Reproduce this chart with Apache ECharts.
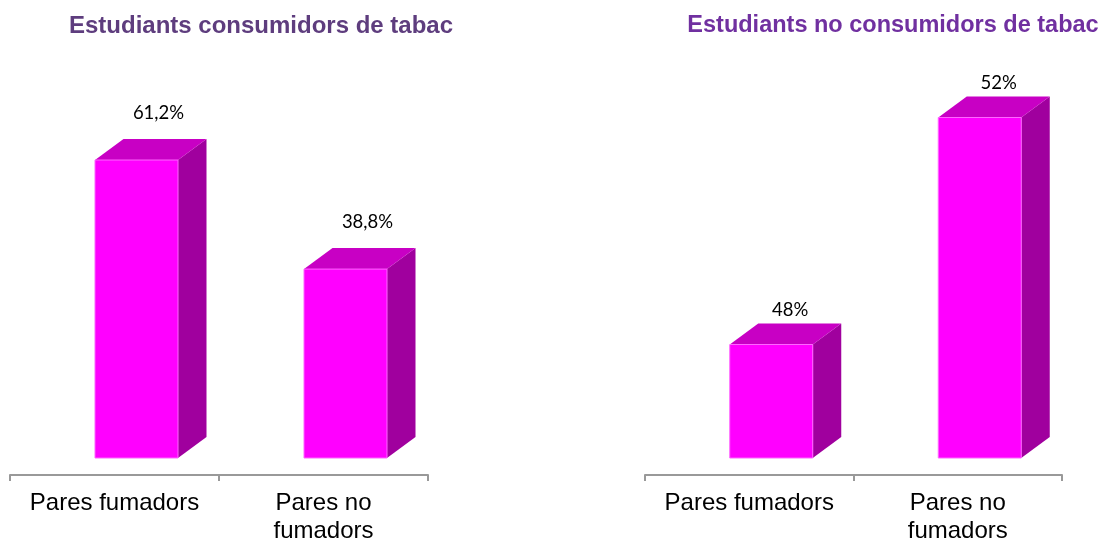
<!DOCTYPE html>
<html>
<head>
<meta charset="utf-8">
<script src="https://cdn.jsdelivr.net/npm/echarts@6/dist/echarts.min.js"></script>
<style>html,body{margin:0;padding:0;background:#fff}#c{width:1102px;height:540px}</style>
</head>
<body>
<div id="c"></div>
<script>
const categories = ['Pares fumadors', 'Pares no\nfumadors'];
const consumidors = [61.2, 38.8];
const noConsumidors = [48, 52];
const labelsConsumidors = ['61,2%', '38,8%'];
const labelsNoConsumidors = ['48%', '52%'];
const titles = ['Estudiants consumidors de tabac', 'Estudiants no consumidors de tabac'];

const W = 83, OFF = -19.5, DX = 28.5, DY = 21, LIFT = 17;

function makeRender(yMin, labels, labelGap, labelShift) {
  return function (params, api) {
    const ci = api.value(0), v = api.value(1);
    const b = api.coord([ci, yMin]);
    const t = api.coord([ci, v]);
    const x0 = t[0] + OFF, x1 = x0 + W;
    const yb = b[1] - LIFT, yt = t[1] - LIFT;
    return {
      type: 'group',
      children: [
        { type: 'polygon', shape: { points: [[x1, yt], [x1 + DX, yt - DY], [x1 + DX, yb - DY], [x1, yb]] },
          style: { fill: '#a0009e' } },
        { type: 'polygon', shape: { points: [[x0, yt], [x0 + DX, yt - DY], [x1 + DX, yt - DY], [x1, yt]] },
          style: { fill: '#c800c4' } },
        { type: 'rect', shape: { x: x0, y: yt, width: W, height: yb - yt },
          style: { fill: '#ff00ff', stroke: '#ff66ff', lineWidth: 1 } },
        { type: 'text', x: x0 + W / 2 + labelShift, y: yt - DY - labelGap,
          style: { text: labels[params.dataIndex], fill: '#000', font: '18.5px Lato, "Open Sans", sans-serif',
                   align: 'center', verticalAlign: 'middle' } }
      ]
    };
  };
}

const axisCommon = {
  type: 'category',
  data: categories,
  boundaryGap: true,
  axisLine: { lineStyle: { color: '#999999', width: 2 } },
  axisTick: { show: true, length: 6, lineStyle: { color: '#999999', width: 2 } },
  axisLabel: { color: '#000', fontSize: 24, lineHeight: 28, fontFamily: '"Liberation Sans", Arial, sans-serif', margin: 14, interval: 0 },
  splitLine: { show: false }
};

const option = {
  animation: false,
  title: [
    { text: titles[0], left: 256, top: 9, textAlign: 'center',
      textStyle: { color: '#5e3d7e', fontSize: 24, fontWeight: 'bold', fontFamily: '"Liberation Sans", Arial, sans-serif' } },
    { text: titles[1], left: 888, top: 9, textAlign: 'center',
      textStyle: { color: '#7030a0', fontSize: 23.5, fontWeight: 'bold', fontFamily: '"Liberation Sans", Arial, sans-serif' } }
  ],
  grid: [
    { left: 10, right: 674, top: 475 - 80 * 4.869, bottom: 65, outerBoundsMode: 'none', containLabel: false },
    { left: 645, right: 40, top: 475 - 7 * 56.75, bottom: 65, outerBoundsMode: 'none', containLabel: false }
  ],
  xAxis: [
    Object.assign({ gridIndex: 0 }, axisCommon),
    Object.assign({ gridIndex: 1 }, axisCommon)
  ],
  yAxis: [
    { gridIndex: 0, type: 'value', min: 0, max: 80, show: false },
    { gridIndex: 1, type: 'value', min: 46, max: 53, show: false }
  ],
  series: [
    { type: 'custom', xAxisIndex: 0, yAxisIndex: 0, clip: false,
      renderItem: makeRender(0, labelsConsumidors, 26, 22),
      data: consumidors.map((v, i) => [i, v]) },
    { type: 'custom', xAxisIndex: 1, yAxisIndex: 1, clip: false,
      renderItem: makeRender(46, labelsNoConsumidors, 13, 19),
      data: noConsumidors.map((v, i) => [i, v]) }
  ]
};
const chart = echarts.init(document.getElementById('c'), null, { renderer: 'canvas' });
chart.setOption(option);
</script>
</body>
</html>
